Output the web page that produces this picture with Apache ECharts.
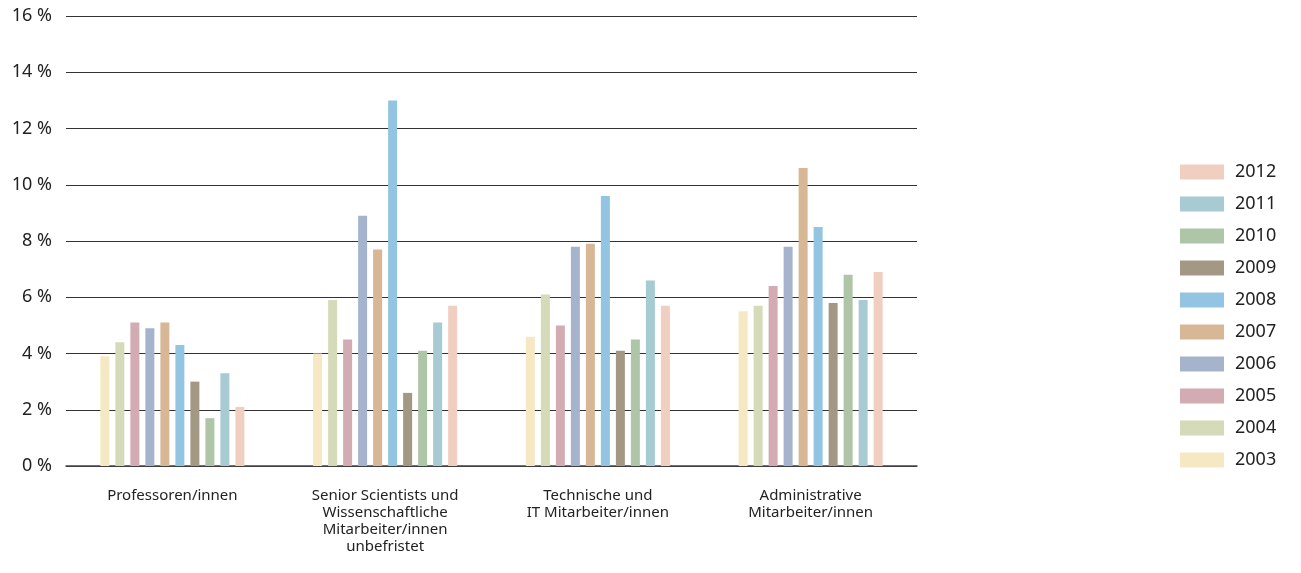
<!DOCTYPE html>
<html>
<head>
<meta charset="utf-8">
<script src="https://cdn.jsdelivr.net/npm/echarts@6/dist/echarts.min.js"></script>
<style>
  html, body { margin: 0; padding: 0; background: #fff; }
  #chart { width: 1301px; height: 573px; }
</style>
</head>
<body>
<div id="chart"></div>
<script>
// Staff groups on the x axis
const categories = [
  'Professoren/innen',
  'Senior Scientists und\nWissenschaftliche\nMitarbeiter/innen\nunbefristet',
  'Technische und\nIT Mitarbeiter/innen',
  'Administrative\nMitarbeiter/innen'
];

const years = ['2003', '2004', '2005', '2006', '2007', '2008', '2009', '2010', '2011', '2012'];

// Share in percent per year, one value per staff group
const v2003 = [3.9, 4.0, 4.6, 5.5];
const v2004 = [4.4, 5.9, 6.1, 5.7];
const v2005 = [5.1, 4.5, 5.0, 6.4];
const v2006 = [4.9, 8.9, 7.8, 7.8];
const v2007 = [5.1, 7.7, 7.9, 10.6];
const v2008 = [4.3, 13.0, 9.6, 8.5];
const v2009 = [3.0, 2.6, 4.1, 5.8];
const v2010 = [1.7, 4.1, 4.5, 6.8];
const v2011 = [3.3, 5.1, 6.6, 5.9];
const v2012 = [2.1, 5.7, 5.7, 6.9];

const yearValues = [v2003, v2004, v2005, v2006, v2007, v2008, v2009, v2010, v2011, v2012];

const yearColors = ['#f6e8c3', '#d5dab9', '#d3abb3', '#a6b3cc', '#d7b796',
                    '#93c4e1', '#a39883', '#aec5a8', '#a8cad3', '#f1cfc0'];

const chart = echarts.init(document.getElementById('chart'), null, { renderer: 'canvas' });

const font = '"Noto Sans", "Open Sans", sans-serif';

chart.setOption({
  animation: false,
  backgroundColor: '#ffffff',
  textStyle: { fontFamily: font },
  grid: { left: 66, right: 384, top: 16, bottom: 107, containLabel: false },
  legend: {
    orient: 'vertical',
    left: 1175,
    top: 158,
    itemWidth: 44,
    itemHeight: 15,
    itemGap: 14,
    icon: 'rect',
    data: years.slice().reverse(),
    textStyle: { fontSize: 18, lineHeight: 17, color: '#222', fontFamily: font, padding: [0, 0, 0, 6] }
  },
  xAxis: {
    type: 'category',
    data: categories,
    axisLine: { show: true, lineStyle: { color: '#444', width: 1.5 } },
    axisTick: { show: false },
    axisLabel: {
      interval: 0,
      margin: 21,
      fontSize: 15,
      lineHeight: 17,
      color: '#222',
      fontFamily: font,
      align: 'center'
    }
  },
  yAxis: {
    type: 'value',
    min: 0,
    max: 16,
    interval: 2,
    axisLine: { show: false },
    axisTick: { show: false },
    splitLine: { lineStyle: { color: '#333', width: 1.2 } },
    axisLabel: {
      formatter: '{value} %',
      fontSize: 18,
      color: '#222',
      margin: 14,
      fontFamily: font
    }
  },
  series: years.map((y, i) => ({
    name: y,
    type: 'bar',
    data: yearValues[i],
    barWidth: 9,
    barGap: '66.7%',
    itemStyle: { color: yearColors[i] }
  }))
});
</script>
</body>
</html>
